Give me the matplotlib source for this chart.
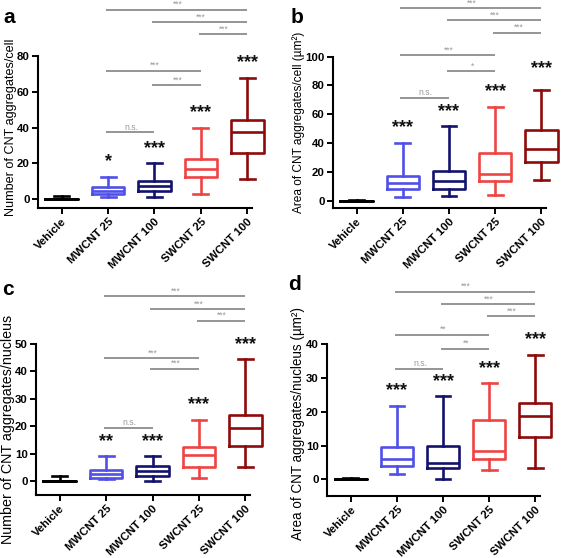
import matplotlib
matplotlib.use("Agg")
import matplotlib.pyplot as plt

plt.rcParams.update({
    "font.family": ["Liberation Sans", "DejaVu Sans"],
    "axes.linewidth": 1.5,
})

# ------------------------------------------------------------
# data
# ------------------------------------------------------------
groups = ["Vehicle", "MWCNT 25", "MWCNT 100", "SWCNT 25", "SWCNT 100"]
colors = ["#000000", "#5050e8", "#13136e", "#ee4444", "#8e0b0b"]

# a: number of aggregates / cell
a_lo = [0, 1.1, 1.1, 3.0, 11.3]
a_q1 = [0, 2.8, 4.3, 12.1, 25.9]
a_med = [0, 4.6, 7.3, 16.9, 37.4]
a_q3 = [0, 6.5, 9.9, 22.3, 44.1]
a_hi = [2.0, 12.3, 20.0, 40.0, 67.8]
a_stars = ["", "*", "***", "***", "***"]

# b: area of aggregates / cell
b_lo = [0, 2.8, 3.2, 4.2, 14.6]
b_q1 = [0, 7.9, 7.9, 13.9, 26.9]
b_med = [0, 12.5, 13.7, 18.5, 35.9]
b_q3 = [0, 17.4, 20.4, 33.3, 48.9]
b_hi = [0.6, 40.3, 51.7, 65.0, 76.9]
b_stars = ["", "***", "***", "***", "***"]

# c: number of aggregates / nucleus
c_lo = [0, 0.9, 0.0, 1.1, 5.1]
c_q1 = [0, 1.2, 1.9, 5.1, 12.7]
c_med = [0, 2.7, 3.6, 9.6, 19.2]
c_q3 = [0, 4.1, 5.5, 12.4, 23.9]
c_hi = [2.0, 9.0, 9.0, 22.2, 44.3]
c_stars = ["", "**", "***", "***", "***"]

# d: area of aggregates / nucleus
d_lo = [0, 1.5, 0.0, 2.7, 3.3]
d_q1 = [0, 3.9, 3.3, 5.9, 12.4]
d_med = [0, 5.9, 4.7, 8.5, 18.6]
d_q3 = [0, 9.5, 9.8, 17.6, 22.6]
d_hi = [0.5, 21.8, 24.6, 28.4, 36.8]
d_stars = ["", "***", "***", "***", "***"]

# pairwise comparisons (group i, group j, label)
a_pairs = [(1, 4, "***"), (2, 4, "***"), (3, 4, "***"), (1, 3, "***"), (2, 3, "***"), (1, 2, "n.s.")]
b_pairs = [(1, 4, "***"), (2, 4, "***"), (3, 4, "***"), (1, 3, "***"), (2, 3, "*"), (1, 2, "n.s.")]
c_pairs = [(1, 4, "***"), (2, 4, "***"), (3, 4, "***"), (1, 3, "***"), (2, 3, "***"), (1, 2, "n.s.")]
d_pairs = [(1, 4, "***"), (2, 4, "***"), (3, 4, "***"), (1, 3, "**"), (2, 3, "**"), (1, 2, "n.s.")]

# ------------------------------------------------------------
# layout
# ------------------------------------------------------------
panels = [
    dict(letter="a", stats=(a_lo, a_q1, a_med, a_q3, a_hi), stars=a_stars, pairs=a_pairs,
         bar_y=[106, 99, 92.3, 71.7, 63.7, 37.4], ylim=(-5, 80), yticks=range(0, 81, 20),
         ylabel="Number of CNT aggregates/cell", rect=[0.0670, 0.6272, 0.3774, 0.2724],
         lab_xy=(-0.10, 0.533), lab_fs=9.1, letter_xy=(3, 23), star_off=[0, 15, 15, 15, 15]),
    dict(letter="b", stats=(b_lo, b_q1, b_med, b_q3, b_hi), stars=b_stars, pairs=b_pairs,
         bar_y=[133.5, 125.5, 116.7, 101, 90, 71.5], ylim=(-5.3, 100), yticks=range(0, 101, 20),
         ylabel="Area of CNT aggregates/cell (µm²)", rect=[0.5873, 0.6267, 0.3757, 0.2717],
         lab_xy=(-0.13, 0.569), lab_fs=8.6, letter_xy=(291, 23), star_off=[0, 15, 15, 15, 21]),
    dict(letter="c", stats=(c_lo, c_q1, c_med, c_q3, c_hi), stars=c_stars, pairs=c_pairs,
         bar_y=[67.3, 62.6, 58.3, 44.8, 40.9, 19.3], ylim=(-5.2, 50), yticks=range(0, 51, 10),
         ylabel="Number of CNT aggregates/nucleus", rect=[0.0635, 0.1124, 0.3774, 0.2717],
         lab_xy=(-0.10, 0.437), lab_fs=10.3, letter_xy=(2, 295), star_off=[0, 15, 15, 15, 15]),
    dict(letter="d", stats=(d_lo, d_q1, d_med, d_q3, d_hi), stars=d_stars, pairs=d_pairs,
         bar_y=[55.4, 51.8, 48.2, 42.7, 38.6, 32.6], ylim=(-5, 40), yticks=range(0, 41, 10),
         ylabel="Area of CNT aggregates/nucleus (µm²)", rect=[0.5772, 0.1106, 0.3751, 0.2729],
         lab_xy=(-0.105, 0.48), lab_fs=9.75, letter_xy=(288, 290), star_off=[0, 15, 15, 15, 15]),
]

W, H = 567, 558
fig = plt.figure(figsize=(W / 100, H / 100), dpi=100)

for p in panels:
    ax = fig.add_axes(p["rect"])
    lo, q1, med, q3, hi = p["stats"]
    stats = [dict(whislo=lo[i], q1=q1[i], med=med[i], q3=q3[i], whishi=hi[i], fliers=[])
             for i in range(len(groups))]
    bp = ax.bxp(stats, positions=range(len(groups)), widths=0.7, capwidths=0.32,
                showfliers=False, patch_artist=False, manage_ticks=False)
    for i, c in enumerate(colors):
        parts = [bp["boxes"][i], bp["medians"][i],
                 bp["whiskers"][2 * i], bp["whiskers"][2 * i + 1],
                 bp["caps"][2 * i], bp["caps"][2 * i + 1]]
        for art in parts:
            art.set(color=c, linewidth=1.9, clip_on=False)

    # significance vs vehicle
    for i, s in enumerate(p["stars"]):
        if s:
            ax.annotate(s, (i, hi[i]), xytext=(0, p["star_off"][i] * 0.72),
                        textcoords="offset points", ha="center", va="center",
                        fontsize=13, fontweight="bold", color="#111111",
                        annotation_clip=False)

    # pairwise comparison bars
    for (i, j, lab), y in zip(p["pairs"], p["bar_y"]):
        ax.plot([i - 0.05, j], [y, y], color="#8c8c8c", lw=1.3, clip_on=False,
                solid_capstyle="butt")
        ax.annotate(lab, ((i + j) / 2, y), xytext=(0, 0.5), textcoords="offset points",
                    ha="center", va="bottom", fontsize=6.2, color="#9a9a9a",
                    annotation_clip=False)

    ax.set_xlim(-0.51, 4.1)
    ax.set_ylim(*p["ylim"])
    ax.set_yticks(list(p["yticks"]))
    ax.set_xticks(range(len(groups)))
    ax.set_xticklabels(groups, rotation=45, ha="right", rotation_mode="anchor")
    for lbl in ax.get_xticklabels() + ax.get_yticklabels():
        lbl.set_fontweight("bold")
        lbl.set_fontsize(8.2)
    ax.tick_params(direction="out", length=4, width=1.4, pad=2)
    ax.spines["top"].set_visible(False)
    ax.spines["right"].set_visible(False)
    ax.spines["left"].set_bounds(p["ylim"][0], p["ylim"][1])
    ax.set_ylabel(p["ylabel"], fontsize=p["lab_fs"])
    ax.yaxis.set_label_coords(*p["lab_xy"])

    lx, ly = p["letter_xy"]
    fig.text(lx / W, 1 - ly / H, p["letter"], fontsize=15, fontweight="bold",
             va="baseline", ha="left")

fig.savefig("out.png", dpi=100)
